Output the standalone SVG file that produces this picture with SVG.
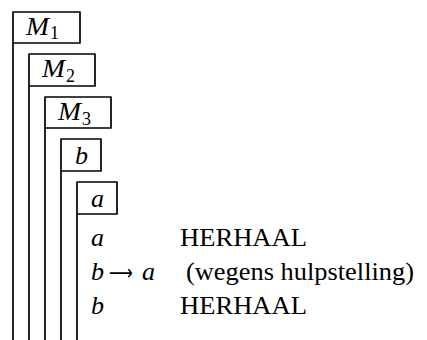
<svg xmlns="http://www.w3.org/2000/svg" width="427" height="340" viewBox="0 0 427 340">
<style>
.box{fill:none;stroke:#000;stroke-width:1.7;stroke-linejoin:round}
.m{font-family:"Liberation Serif","DejaVu Serif",serif;font-style:italic;font-size:26px;fill:#000}
.sub{font-family:"Liberation Serif","DejaVu Serif",serif;font-size:18px;fill:#000}
.t{font-family:"Liberation Serif","DejaVu Serif",serif;font-size:26px;fill:#000}
.arr{font-family:"DejaVu Sans",sans-serif;font-size:22px;fill:#000}
</style>
<rect width="427" height="340" fill="#fff"/>
<g id="M1">
<path class="box" d="M13,340 V12 H80 V43 H13"/>
<text class="m" x="26" y="35" textLength="23" lengthAdjust="spacingAndGlyphs">M</text><text class="sub" x="50" y="39">1</text>
</g>
<g id="M2">
<path class="box" d="M29,340 V54 H95 V86 H29"/>
<text class="m" x="42" y="77" textLength="23" lengthAdjust="spacingAndGlyphs">M</text><text class="sub" x="66" y="82">2</text>
</g>
<g id="M3">
<path class="box" d="M45,340 V97 H111 V128 H45"/>
<text class="m" x="58" y="120" textLength="23" lengthAdjust="spacingAndGlyphs">M</text><text class="sub" x="82" y="125">3</text>
</g>
<g id="b">
<path class="box" d="M61,340 V139 H101 V171 H61"/>
<text class="m" x="75" y="164">b</text>
</g>
<g id="a">
<path class="box" d="M77,340 V182 H117 V214 H77"/>
<text class="m" x="91" y="207">a</text>
</g>
<g id="lines">
<text class="m" x="91" y="246">a</text>
<text class="t" x="180" y="246" textLength="127" lengthAdjust="spacingAndGlyphs">HERHAAL</text>
<text class="m" x="91" y="280">b</text>
<text class="arr" x="109" y="280" textLength="24" lengthAdjust="spacingAndGlyphs">⟶</text>
<text class="m" x="142" y="280">a</text>
<text class="t" x="186" y="280" textLength="228" lengthAdjust="spacingAndGlyphs">(wegens hulpstelling)</text>
<text class="m" x="91" y="314">b</text>
<text class="t" x="180" y="314" textLength="127" lengthAdjust="spacingAndGlyphs">HERHAAL</text>
</g>
</svg>
